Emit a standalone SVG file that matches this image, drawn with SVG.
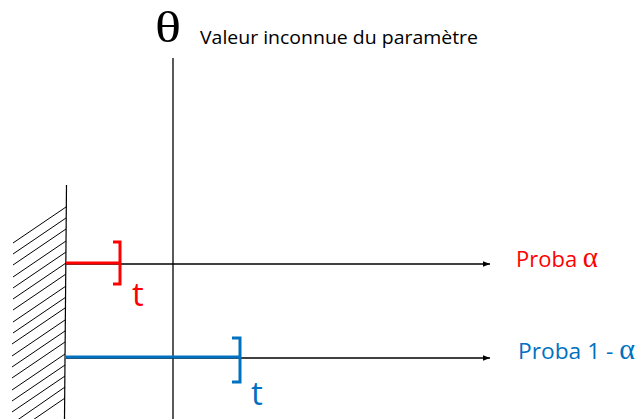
<svg xmlns="http://www.w3.org/2000/svg" width="639" height="419" viewBox="0 0 639 419">
<style>
.hatch line{stroke:#000;stroke-width:1}
.ax{stroke:#000;stroke-width:1.3;fill:none}
.red{stroke:#FF0000;stroke-width:3;fill:none}
.blue{stroke:#0070C0;stroke-width:3;fill:none}
.lbl{font-family:"Open Sans","Liberation Sans",sans-serif}
.gr{font-family:"Liberation Serif","DejaVu Serif",serif}
</style>
<defs>
<marker id="arr" viewBox="0 0 10 10" refX="10" refY="5" markerWidth="7" markerHeight="7" markerUnits="userSpaceOnUse" orient="auto">
<path d="M0,1 L10,5 L0,9 z" fill="#000"/>
</marker>
</defs>
<rect width="639" height="419" fill="#fff"/>
<g id="wall">
<line x1="66.5" y1="185" x2="64.5" y2="419" stroke="#000" stroke-width="1.2"/>
<g class="hatch">
<line x1="13" y1="243" x2="66" y2="207"/>
<line x1="13" y1="254" x2="66" y2="218"/>
<line x1="13" y1="265" x2="66" y2="229"/>
<line x1="13" y1="277" x2="66" y2="241"/>
<line x1="13" y1="288" x2="66" y2="252"/>
<line x1="13" y1="299" x2="66" y2="263"/>
<line x1="13" y1="310" x2="66" y2="274"/>
<line x1="13" y1="322" x2="66" y2="286"/>
<line x1="13" y1="333" x2="66" y2="297"/>
<line x1="12" y1="344" x2="65" y2="308"/>
<line x1="12" y1="356" x2="65" y2="320"/>
<line x1="12" y1="367" x2="65" y2="331"/>
<line x1="12" y1="378" x2="65" y2="342"/>
<line x1="12" y1="390" x2="65" y2="354"/>
<line x1="12" y1="401" x2="65" y2="365"/>
<line x1="12" y1="412" x2="65" y2="376"/>
<line x1="16" y1="421" x2="65" y2="387"/>
<line x1="30" y1="422" x2="65" y2="398"/>
</g>
</g>
<g id="theta-axis">
<line class="ax" x1="173" y1="58" x2="173" y2="419"/>
<text class="gr" x="155" y="42" font-size="44" textLength="26" lengthAdjust="spacingAndGlyphs">θ</text>
<text class="lbl" x="200" y="44" font-size="18" textLength="278" lengthAdjust="spacingAndGlyphs">Valeur inconnue du paramètre</text>
</g>
<g id="connectors">
<line class="ax" x1="66" y1="264" x2="490" y2="264" marker-end="url(#arr)"/>
<line class="ax" x1="66" y1="358" x2="490" y2="358" marker-end="url(#arr)"/>
</g>
<g id="interval-alpha">
<line class="red" x1="66" y1="263" x2="119" y2="263"/>
<path class="red" d="M113,242 H120 V284 H113"/>
<text class="lbl" x="132" y="306" font-size="33" fill="#FF0000">t</text>
<text class="lbl" x="516" y="267" font-size="22" fill="#FF0000" textLength="82" lengthAdjust="spacingAndGlyphs">Proba <tspan class="gr" font-size="29">α</tspan></text>
</g>
<g id="interval-1-alpha">
<line class="blue" x1="66" y1="357" x2="239" y2="357"/>
<path class="blue" d="M232,338 H240 V382 H232"/>
<text class="lbl" x="251" y="405" font-size="33" fill="#0070C0">t</text>
<text class="lbl" x="518" y="359" font-size="22" fill="#0070C0" textLength="117" lengthAdjust="spacingAndGlyphs">Proba 1 - <tspan class="gr" font-size="29">α</tspan></text>
</g>
</svg>
